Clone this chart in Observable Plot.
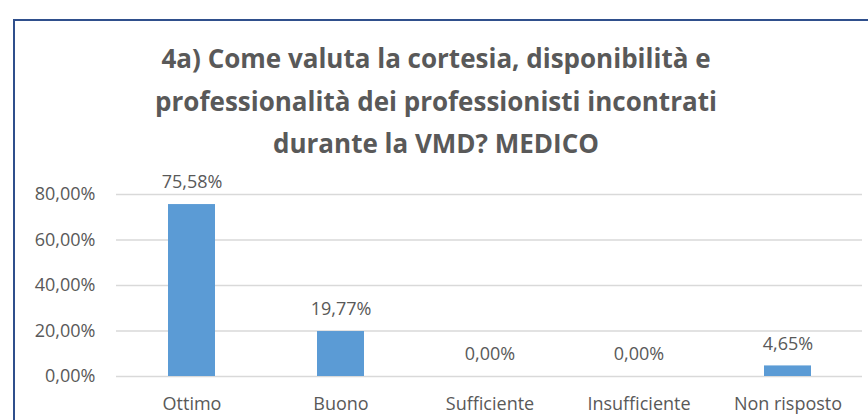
<!DOCTYPE html>
<html><head><meta charset="utf-8">
<script src="https://cdn.jsdelivr.net/npm/d3@7"></script>
<script src="https://cdn.jsdelivr.net/npm/@observablehq/plot@0.6"></script>
<style>
body{margin:0;background:#fff;}
#wrap{position:relative;width:868px;height:420px;overflow:hidden;font-family:"Open Sans",sans-serif;background:#fff;}
#frame{position:absolute;left:13px;top:19px;width:900px;height:500px;border-top:2px solid #2f4f8c;border-left:2px solid #2f4f8c;}
#title{position:absolute;left:0;top:37px;width:872px;text-align:center;font-weight:700;font-size:26px;line-height:42.5px;color:#595959;}
#chart{position:absolute;left:0;top:170px;}
</style>
</head>
<body>
<div id="wrap">
  <div id="frame"></div>
  <div id="title"></div>
  <div id="chart"></div>
</div>
<script>
const titleLines = [
  "4a) Come valuta la cortesia, disponibilità e",
  "professionalità dei professionisti incontrati",
  "durante la VMD? MEDICO"
];
const categories = ["Ottimo", "Buono", "Sufficiente", "Insufficiente", "Non risposto"];
const values = [75.58, 19.77, 0, 0, 4.65];
const yTicks = [0, 20, 40, 60, 80];

const fmt = v => v.toFixed(2).replace(".", ",") + "%";
const data = categories.map((c, i) => ({cat: c, val: values[i]}));

const titleEl = document.getElementById("title");
titleLines.forEach((t, i) => {
  if (i) titleEl.appendChild(document.createElement("br"));
  titleEl.appendChild(document.createTextNode(t));
});

const chart = Plot.plot({
  width: 868,
  height: 250,
  marginLeft: 116,
  marginRight: 6,
  marginTop: 24,
  marginBottom: 44,
  style: {fontFamily: "Open Sans", fontSize: "18px", color: "#595959", background: "transparent", overflow: "visible"},
  x: {domain: categories, paddingInner: 0.685, paddingOuter: 0.3425, label: null, tickSize: 0, tickPadding: 21},
  y: {domain: [0, 80], ticks: yTicks, tickFormat: fmt, label: null, tickSize: 0, tickPadding: 21},
  marks: [
    Plot.ruleY(yTicks, {stroke: "#d9d9d9", strokeWidth: 1.5}),
    Plot.barY(data, {x: "cat", y: "val", fill: "#5B9BD5"}),
    Plot.text(data, {x: "cat", y: "val", text: d => fmt(d.val), dy: -22, fill: "#595959", fontSize: 18})
  ]
});
document.getElementById("chart").appendChild(chart);
</script>
</body></html>
